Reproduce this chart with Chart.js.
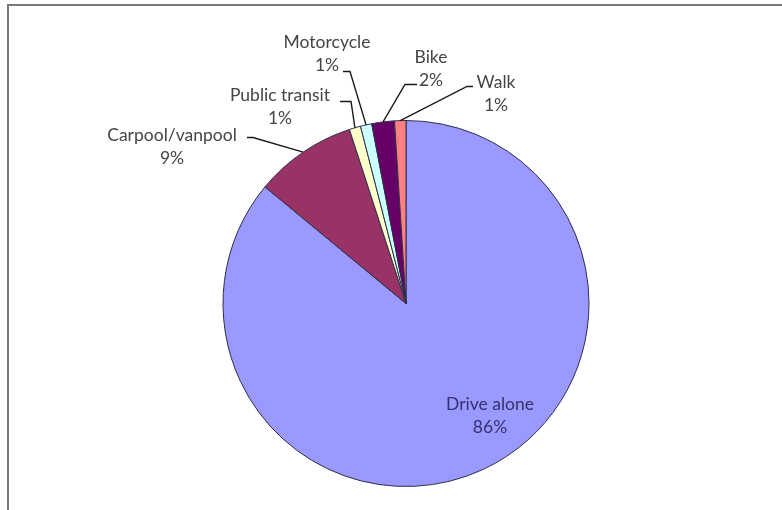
<!DOCTYPE html>
<html>
<head>
<meta charset="utf-8">
<script src="https://cdn.jsdelivr.net/npm/chart.js@4"></script>
<style>
    body { margin: 0; background: #fff; }
    canvas { display: block; }
</style>
</head>
<body>
<canvas id="chart-commute" width="782" height="510"></canvas>
<script>
// commute mode share, percent
const modes = ["Drive alone", "Carpool/vanpool", "Public transit", "Motorcycle", "Bike", "Walk"];
const shares = [86, 9, 1, 1, 2, 1];
const slice_colors = ["#9999FF", "#993366", "#FFFFCC", "#CCFFFF", "#660066", "#FF8080"];

// label placement relative to the pie centre: text centre, then leader start -> elbow
const label_layout = [
    { text: [84, 112], inside: true },
    { text: [-234, -157], lead: [[-159, -166], [-153, -166]] },
    { text: [-126, -197], lead: [[-66, -202], [-55, -202]] },
    { text: [-79, -250], lead: [[-63, -232], [-56, -232]] },
    { text: [25, -235], lead: [[11, -219], [-1, -219]] },
    { text: [90, -210], lead: [[67, -217], [61, -217]] },
];

const ctx_commute = document.getElementById('chart-commute');

const frame_plugin = {
    id: 'frame',
    beforeDraw(chart) {
        const c = chart.ctx;
        c.save();
        c.strokeStyle = '#7a7a7a';
        c.lineWidth = 2;
        c.strokeRect(8, 5, 900, 700);
        c.restore();
    }
};

const label_plugin = {
    id: 'pieLabels',
    afterDraw(chart) {
        const c = chart.ctx;
        const arcs = chart.getDatasetMeta(0).data;
        c.save();
        c.font = '17.5px Lato';
        c.textAlign = 'center';
        c.textBaseline = 'middle';
        arcs.forEach(function(arc, i) {
            const p = arc.getProps(['x', 'y', 'startAngle', 'endAngle', 'outerRadius'], true);
            const lay = label_layout[i];
            const tx = p.x + lay.text[0];
            const ty = p.y + lay.text[1];
            if (lay.lead) {
                const mid = (p.startAngle + p.endAngle) / 2;
                const ex = p.x + Math.cos(mid) * p.outerRadius;
                const ey = p.y + Math.sin(mid) * p.outerRadius;
                c.strokeStyle = '#1a1a1a';
                c.lineWidth = 1.4;
                c.beginPath();
                c.moveTo(p.x + lay.lead[0][0], p.y + lay.lead[0][1]);
                c.lineTo(p.x + lay.lead[1][0], p.y + lay.lead[1][1]);
                c.lineTo(ex, ey);
                c.stroke();
            }
            c.fillStyle = lay.inside ? '#33336e' : '#454545';
            c.fillText(modes[i], tx, ty - 11.5);
            c.fillText(shares[i] + '%', tx, ty + 11.5);
        });
        c.restore();
    }
};

const chart_commute = new Chart(ctx_commute, {
    type: 'pie',
    data: {
        labels: modes,
        datasets: [{
            data: shares,
            backgroundColor: slice_colors,
            borderColor: '#2e2e4a',
            borderWidth: 1,
        }],
    },
    options: {
        responsive: false,
        devicePixelRatio: 1,
        animation: false,
        layout: { padding: { left: 200, right: 170, top: 120, bottom: 23 } },
        plugins: {
            legend: { display: false },
            tooltip: { enabled: false },
        },
    },
    plugins: [frame_plugin, label_plugin],
});
</script>
</body>
</html>
